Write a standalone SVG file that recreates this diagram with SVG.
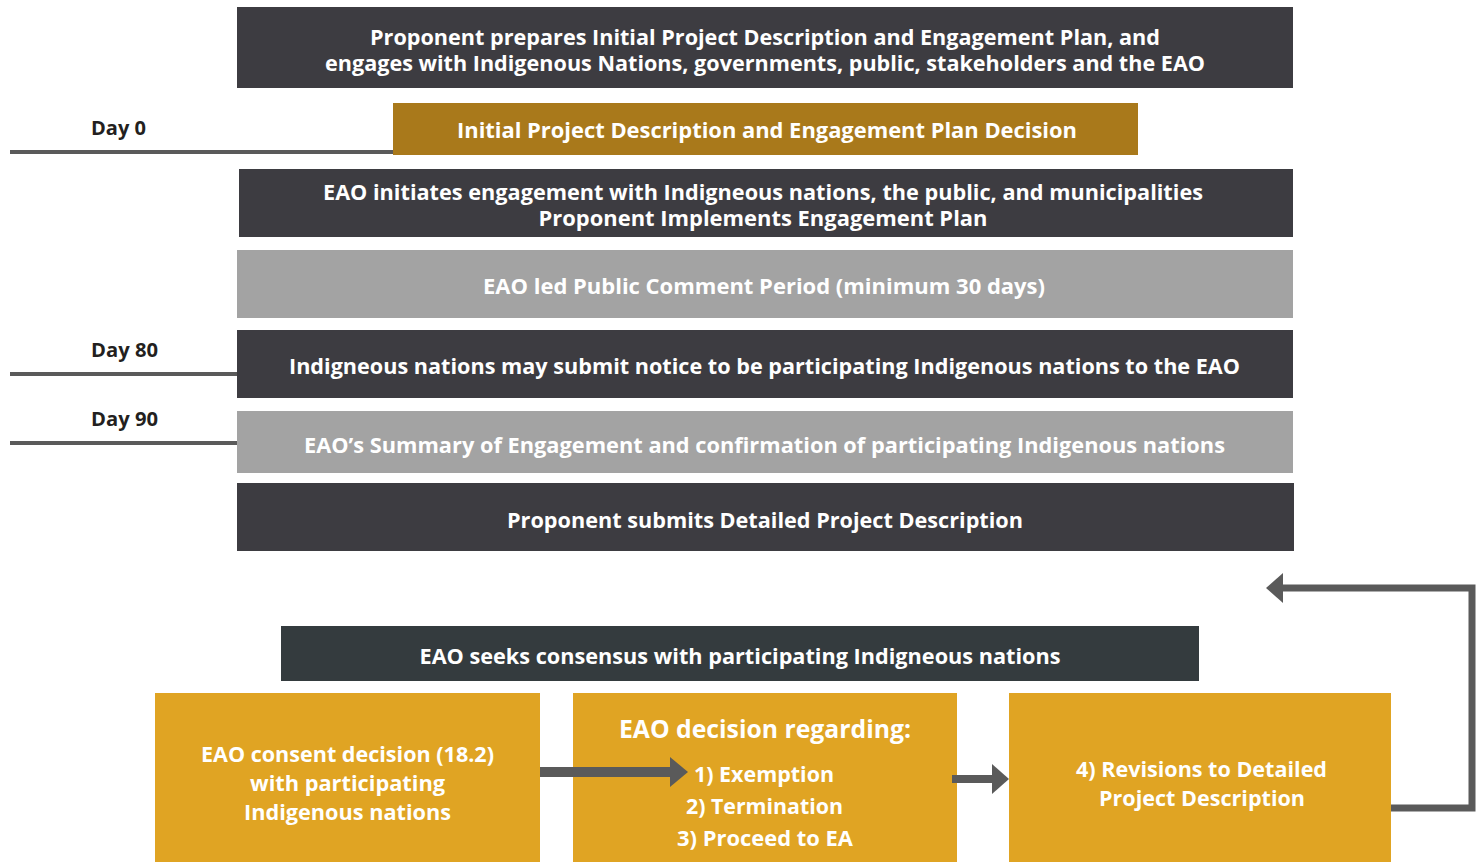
<svg xmlns="http://www.w3.org/2000/svg" width="1478" height="862" viewBox="0 0 1478 862">
<style>
text{font-family:"Open Sans","Liberation Sans",sans-serif;font-weight:700;text-anchor:middle;fill:#ffffff;font-size:21px}
.day{fill:#231f20;text-anchor:start;font-size:19px}
.dark{fill:#3d3c41}
.grey{fill:#a3a3a3}
.gold{fill:#e0a423}
.big{font-size:22px}
.tl{stroke:#5a5a5a;stroke-width:4;fill:none}
.conn{stroke:#5a5a5a;fill:none}
.head{fill:#5a5a5a}
</style>
<rect width="1478" height="862" fill="#ffffff"/>
<g id="timeline">
<line class="tl" x1="10" y1="152" x2="393" y2="152"/>
<line class="tl" x1="10" y1="374" x2="237" y2="374"/>
<line class="tl" x1="10" y1="443" x2="237" y2="443"/>
<text class="day" x="91" y="135" textLength="55" lengthAdjust="spacingAndGlyphs">Day 0</text>
<text class="day" x="91" y="357" textLength="67" lengthAdjust="spacingAndGlyphs">Day 80</text>
<text class="day" x="91" y="426" textLength="67" lengthAdjust="spacingAndGlyphs">Day 90</text>
</g>
<g id="n1">
<rect class="dark" x="237" y="7" width="1056" height="81"/>
<text x="765" y="45" textLength="790" lengthAdjust="spacingAndGlyphs">Proponent prepares Initial Project Description and Engagement Plan, and</text>
<text x="765" y="71" textLength="880" lengthAdjust="spacingAndGlyphs">engages with Indigenous Nations, governments, public, stakeholders and the EAO</text>
</g>
<g id="n2">
<rect x="393" y="103" width="745" height="52" fill="#a9791b"/>
<text x="767" y="138" textLength="620" lengthAdjust="spacingAndGlyphs">Initial Project Description and Engagement Plan Decision</text>
</g>
<g id="n3">
<rect class="dark" x="239" y="169" width="1054" height="68"/>
<text x="763" y="200" textLength="880" lengthAdjust="spacingAndGlyphs">EAO initiates engagement with Indigneous nations, the public, and municipalities</text>
<text x="763" y="226" textLength="449" lengthAdjust="spacingAndGlyphs">Proponent Implements Engagement Plan</text>
</g>
<g id="n4">
<rect class="grey" x="237" y="250" width="1056" height="68"/>
<text x="764" y="294" textLength="562" lengthAdjust="spacingAndGlyphs">EAO led Public Comment Period (minimum 30 days)</text>
</g>
<g id="n5">
<rect class="dark" x="237" y="330" width="1056" height="68"/>
<text x="764.5" y="374" textLength="951" lengthAdjust="spacingAndGlyphs">Indigneous nations may submit notice to be participating Indigenous nations to the EAO</text>
</g>
<g id="n6">
<rect class="grey" x="237" y="411" width="1056" height="62"/>
<text x="764.5" y="453" textLength="921" lengthAdjust="spacingAndGlyphs">EAO’s Summary of Engagement and confirmation of participating Indigenous nations</text>
</g>
<g id="n7">
<rect class="dark" x="237" y="483" width="1057" height="68"/>
<text x="765" y="528" textLength="516" lengthAdjust="spacingAndGlyphs">Proponent submits Detailed Project Description</text>
</g>
<g id="n8">
<rect x="281" y="626" width="918" height="55" fill="#343b3e"/>
<text x="740" y="664" textLength="641" lengthAdjust="spacingAndGlyphs">EAO seeks consensus with participating Indigneous nations</text>
</g>
<g id="n9">
<rect class="gold" x="155" y="693" width="385" height="169"/>
<text class="big" x="347.5" y="762" textLength="293" lengthAdjust="spacingAndGlyphs">EAO consent decision (18.2)</text>
<text class="big" x="347.5" y="791" textLength="195" lengthAdjust="spacingAndGlyphs">with participating</text>
<text class="big" x="347.5" y="820" textLength="207" lengthAdjust="spacingAndGlyphs">Indigenous nations</text>
</g>
<g id="n10">
<rect class="gold" x="573" y="693" width="384" height="169"/>
<text x="765" y="738" textLength="292" lengthAdjust="spacingAndGlyphs" style="font-size:25px">EAO decision regarding:</text>
<text class="big" x="764" y="782" textLength="140" lengthAdjust="spacingAndGlyphs">1) Exemption</text>
<text class="big" x="764.5" y="814" textLength="157" lengthAdjust="spacingAndGlyphs">2) Termination</text>
<text class="big" x="765" y="846" textLength="176" lengthAdjust="spacingAndGlyphs">3) Proceed to EA</text>
</g>
<g id="n11">
<rect class="gold" x="1009" y="693" width="382" height="169"/>
<text class="big" x="1201.5" y="777" textLength="251" lengthAdjust="spacingAndGlyphs">4) Revisions to Detailed</text>
<text class="big" x="1202" y="806" textLength="206" lengthAdjust="spacingAndGlyphs">Project Description</text>
</g>
<g id="connectors">
<line class="conn" x1="540" y1="772" x2="672" y2="772" stroke-width="10"/>
<polygon class="head" points="670,757 688,772 670,787"/>
<line class="conn" x1="952" y1="779" x2="994" y2="779" stroke-width="8"/>
<polygon class="head" points="992,764 1009,779 992,794"/>
<polyline class="conn" points="1391,808 1472,808 1472,588 1280,588" stroke-width="7"/>
<polygon class="head" points="1283,573 1266,588 1283,603"/>
</g>
</svg>
